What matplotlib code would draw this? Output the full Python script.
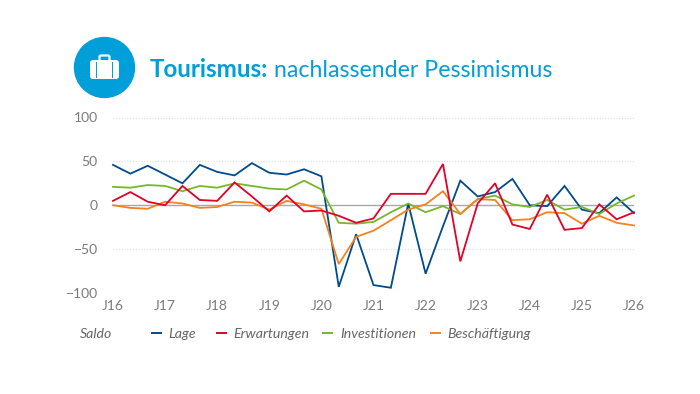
import matplotlib
matplotlib.use("Agg")
import matplotlib.pyplot as plt
from matplotlib.lines import Line2D
from matplotlib.patches import Circle, FancyBboxPatch, Rectangle

# Werte (drei Punkte pro Jahr)
lage = [46, 36, 45, 35, 25, 46, 38, 34, 48, 37, 35, 41, 33, -93, -33, -91, -94, 2, -78, -24,
        28, 10, 15, 30, 0, -1, 22, -5, -9, 9, -9]
erwartungen = [5, 15, 4, 0, 22, 6, 5, 26, 10, -7, 11, -7, -6, -12, -20, -15, 13, 13, 13, 47,
               -64, 2, 25, -22, -27, 12, -28, -26, 1, -16, -8]
investitionen = [21, 20, 23, 22, 16, 22, 20, 25, 22, 19, 18, 28, 18, -20, -21, -19, -8, 2, -8, -1,
                 -10, 7, 11, 1, -2, 6, -5, -2, -10, 2, 11]
beschaeftigung = [0, -3, -4, 4, 2, -3, -2, 4, 3, -5, 5, 1, -4, -67, -36, -29, -17, -5, 1, 16,
                  -10, 7, 6, -17, -16, -8, -9, -21, -12, -20, -23]
jahre = ["J16", "J17", "J18", "J19", "J20", "J21", "J22", "J23", "J24", "J25", "J26"]
y_ticks = [-100, -50, 0, 50, 100]

W, H = 700, 394
BLUE = "#009fda"
GREY = "#7a7a7a"

plt.rcParams["font.family"] = ["Lato", "DejaVu Sans"]

fig = plt.figure(figsize=(7, 3.94), dpi=100)

# Plotbereich in Pixeln
ax = fig.add_axes([113 / W, 1 - 293 / H, 521 / W, 175.5 / H])
ax.set_xlim(0, 30)
ax.set_ylim(-100, 100)
for side in ax.spines.values():
    side.set_visible(False)
ax.patch.set_alpha(0)

for v in y_ticks:
    if v != 0:
        ax.axhline(v, color="#dcdcdc", lw=0.8, ls=(0, (1, 1.5)), zorder=1)
ax.axhline(0, color="#a8a8a8", lw=1.0, zorder=1)

series = [
    (lage, "#004b8d", "Lage"),
    (investitionen, "#76b82a", "Investitionen"),
    (beschaeftigung, "#f5821f", "Beschäftigung"),
    (erwartungen, "#e2002a", "Erwartungen"),
]
for vals, col, name in series:
    ax.plot(range(len(vals)), vals, color=col, lw=1.3, label=name, zorder=3, clip_on=False,
            solid_joinstyle="miter")

ax.set_xticks(range(0, 31, 3), jahre)
ax.set_yticks(y_ticks, ["\u2212100", "\u221250", "0", "50", "100"])
ax.tick_params(length=0, labelsize=10, labelcolor=GREY)
ax.tick_params(axis="x", pad=5)
ax.tick_params(axis="y", pad=11)

# Icon: Kreis mit Koffer, Overlay-Achse in Pixelkoordinaten
over = fig.add_axes([0, 0, 1, 1])
over.set_xlim(0, W)
over.set_ylim(H, 0)
over.axis("off")
over.patch.set_alpha(0)
over.add_patch(Circle((104.5, 67.5), 30, color=BLUE))
over.add_patch(FancyBboxPatch((90, 60), 29, 19, boxstyle="round,pad=0,rounding_size=3", fc="white", ec="none"))
over.add_patch(FancyBboxPatch((99.5, 55.5), 10, 6, boxstyle="round,pad=0,rounding_size=1.5", fc="none", ec="white", lw=1.6))
over.add_patch(Rectangle((95.5, 62), 1.8, 15.5, fc=BLUE, ec="none"))
over.add_patch(Rectangle((111.5, 62), 1.8, 15.5, fc=BLUE, ec="none"))

# Titel
over.text(149.5, 77, "Tourismus:", color=BLUE, fontsize=17.4, fontweight="bold", va="baseline")
over.text(274, 77, "nachlassender Pessimismus", color=BLUE, fontsize=16.7, va="baseline")

# Legende
LEG = "#666666"
over.text(80, 338, "Saldo", color=LEG, fontsize=10.2, style="italic", va="baseline")
legend_items = [("Lage", "#004b8d", 152, 168), ("Erwartungen", "#e2002a", 217, 233),
                ("Investitionen", "#76b82a", 323, 340), ("Beschäftigung", "#f5821f", 431, 447)]
for name, col, x0, xt in legend_items:
    over.add_line(Line2D([x0, x0 + 9], [333, 333], color=col, lw=1.4))
    over.text(xt, 338, name, color=LEG, fontsize=10.2, style="italic", va="baseline")

fig.savefig("out.png", dpi=100)
